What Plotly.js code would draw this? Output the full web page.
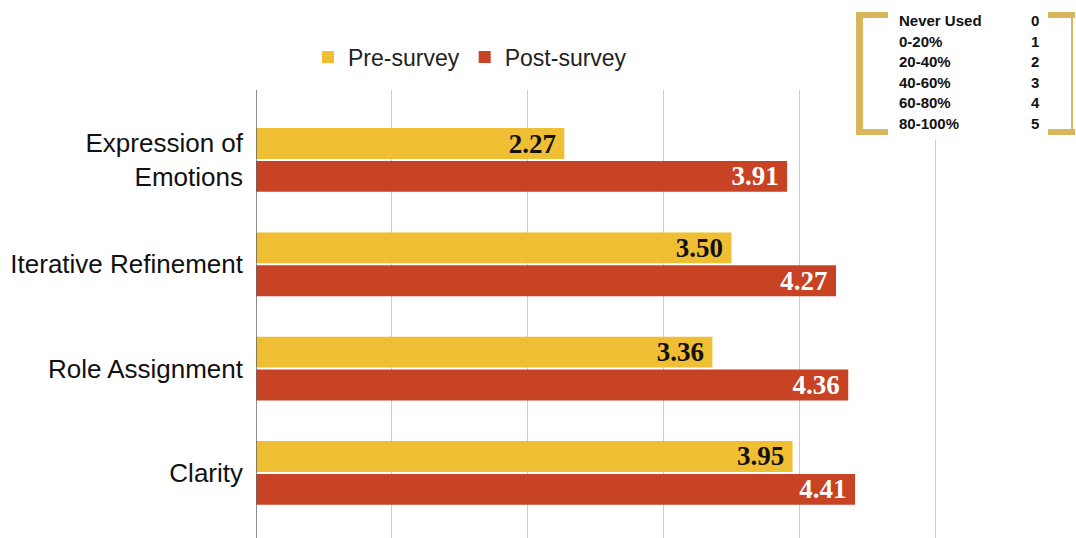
<!DOCTYPE html>
<html>
<head>
<meta charset="utf-8">
<script src="https://cdn.plot.ly/plotly-3.0.1.min.js"></script>
<style>html,body{margin:0;padding:0;background:#fff;}#chart{width:1076px;height:538px;}</style>
</head>
<body>
<div id="chart"></div>
<script>
var categories = ["Expression of<br>Emotions", "Iterative Refinement", "Role Assignment", "Clarity"];
var preSurvey = [2.27, 3.50, 3.36, 3.95];
var postSurvey = [3.91, 4.27, 4.36, 4.41];
var scaleLabels = ["Never Used", "0-20%", "20-40%", "40-60%", "60-80%", "80-100%"];
var scaleValues = ["0", "1", "2", "3", "4", "5"];

var pre = {
  type: 'bar', orientation: 'h', name: 'Pre-survey',
  y: categories, x: preSurvey,
  marker: {color: '#F0BE32'},
  text: preSurvey.map(function(v){return v.toFixed(2) + '\u2009';}),
  textposition: 'inside', insidetextanchor: 'end', constraintext: 'none',
  textfont: {family: 'Liberation Serif', size: 27, color: '#111', weight: 'bold'},
  hoverinfo: 'x+name'
};
var post = {
  type: 'bar', orientation: 'h', name: 'Post-survey',
  y: categories, x: postSurvey,
  marker: {color: '#C84224'},
  text: postSurvey.map(function(v){return v.toFixed(2) + '\u2009';}),
  textposition: 'inside', insidetextanchor: 'end', constraintext: 'none',
  textfont: {family: 'Liberation Serif', size: 27, color: '#ffffff', weight: 'bold'},
  hoverinfo: 'x+name'
};

function px(x){return (x-256)/815;}
function py(y){return 1 - (y-90)/448;}
var annotations = [];
for (var i = 0; i < scaleLabels.length; i++) {
  annotations.push({xref: 'paper', yref: 'paper', x: px(897), y: py(i*20.4 + 21),
    xanchor: 'left', yanchor: 'middle', text: '<b>' + scaleLabels[i] + '</b>', showarrow: false,
    font: {family: 'Liberation Sans', size: 15, color: '#111'}});
  annotations.push({xref: 'paper', yref: 'paper', x: px(1029), y: py(i*20.4 + 21),
    xanchor: 'left', yanchor: 'middle', text: '<b>' + scaleValues[i] + '</b>', showarrow: false,
    font: {family: 'Liberation Sans', size: 15, color: '#111'}});
}
var gold = '#D8B65E';
var shapes = [
  {type:'rect', xref:'paper', yref:'paper', x0:px(850), x1:px(1076), y0:py(0), y1:py(140), fillcolor:'#fff', line:{width:0}, layer:'above'},
  {type:'rect', xref:'paper', yref:'paper', x0:px(856), x1:px(863), y0:py(12), y1:py(135), fillcolor:gold, line:{width:0}, layer:'above'},
  {type:'rect', xref:'paper', yref:'paper', x0:px(856), x1:px(888), y0:py(12), y1:py(18), fillcolor:gold, line:{width:0}, layer:'above'},
  {type:'rect', xref:'paper', yref:'paper', x0:px(856), x1:px(888), y0:py(129), y1:py(135), fillcolor:gold, line:{width:0}, layer:'above'},
  {type:'rect', xref:'paper', yref:'paper', x0:px(1048), x1:px(1075), y0:py(12), y1:py(18), fillcolor:gold, line:{width:0}, layer:'above'},
  {type:'rect', xref:'paper', yref:'paper', x0:px(1048), x1:px(1075), y0:py(129), y1:py(135), fillcolor:gold, line:{width:0}, layer:'above'},
  {type:'rect', xref:'paper', yref:'paper', x0:px(1071), x1:px(1073), y0:py(12), y1:py(135), fillcolor:gold, line:{width:0}, layer:'above'}
];

var layout = {
  width: 1076, height: 538,
  margin: {l: 256, r: 5, t: 90, b: 0},
  paper_bgcolor: '#fff', plot_bgcolor: '#fff',
  barmode: 'group', bargap: 0.37, bargroupgap: 0.06,
  showlegend: true,
  legend: {orientation: 'h', xref: 'paper', yref: 'paper', x: px(470), xanchor: 'center', y: 1 + (90-57)/448, yanchor: 'middle',
    font: {family: 'Liberation Sans', size: 23, color: '#222'}, traceorder: 'normal', itemwidth: 30},
  xaxis: {range: [0, 6], dtick: 1, showgrid: true, gridcolor: '#CCCCCC', gridwidth: 1, zeroline: false,
    showticklabels: false, showline: false, ticks: ''},
  yaxis: {type: 'category', range: [3.624, -0.671], showgrid: false, zeroline: false, showline: false,
    ticks: '', ticklabelstandoff: 12,
    tickfont: {family: 'Liberation Sans', size: 26, color: '#111'}},
  shapes: [{type:'line', xref:'x', yref:'paper', x0:0, x1:0, y0:0, y1:1, line:{color:'#666', width:1.5}}].concat(shapes),
  annotations: annotations
};

Plotly.newPlot('chart', [pre, post], layout, {displayModeBar: false, staticPlot: true});
</script>
</body>
</html>
